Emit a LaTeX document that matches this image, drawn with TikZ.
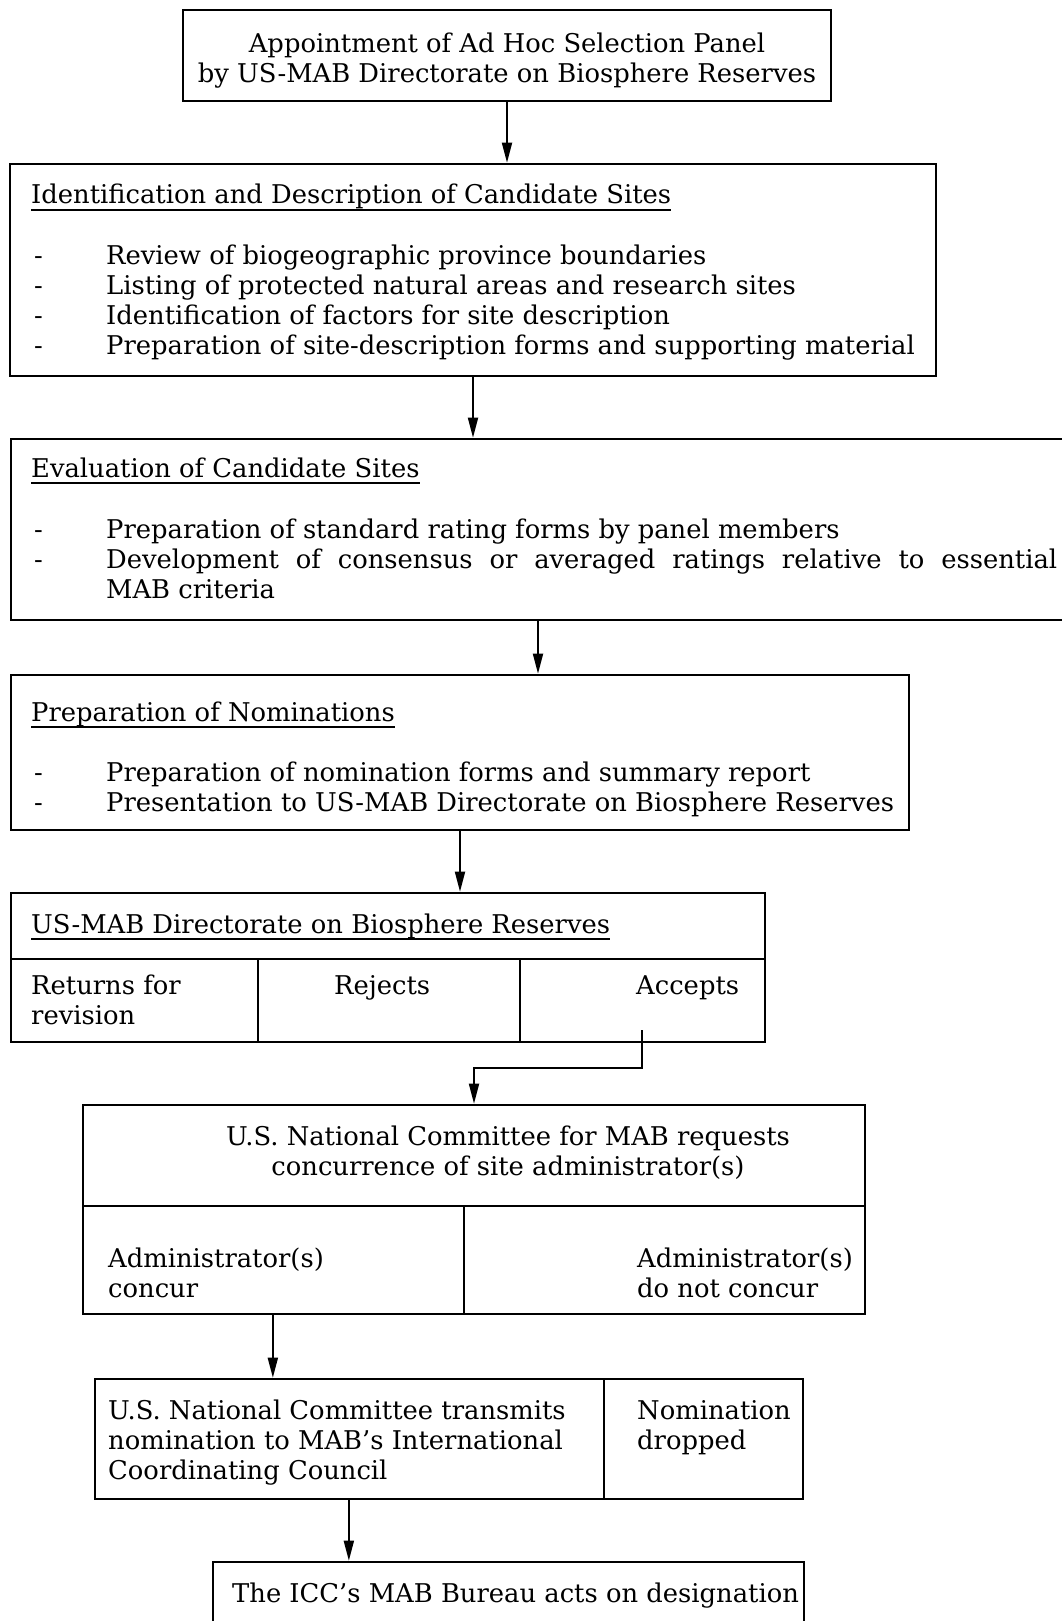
\documentclass[tikz,border=0pt]{standalone}
\usepackage{fontspec}
\setmainfont{DejaVu Serif}
\usetikzlibrary{arrows.meta,positioning,fit,calc}
\newcommand{\headul}[1]{\setbox0=\hbox{#1}\rlap{\rule[-7pt]{\wd0}{2pt}}\box0}
\newcommand{\dashitem}[1]{\makebox[72pt][l]{-}#1}
\tikzset{
  stagebox/.style={draw, line width=2.6pt, inner sep=0pt},
  cellrule/.style={line width=2pt},
  boxtext/.style={anchor=base west, inner sep=0pt, align=left, font=\fontsize{25.8}{30}\selectfont},
  flowedge/.style={-{Triangle[length=20pt,width=10pt]}, line width=1.8pt}
}
\begin{document}
\begin{tikzpicture}[x=1pt, y=-1pt]
  \useasboundingbox (0,0) rectangle (1061,1621);
  \node[stagebox, fit={(183,10)(831,101)}] (appt) {};
  \node[stagebox, fit={(10,164)(936,376)}] (ident) {};
  \node[stagebox, fit={(11,439)(1065,620)}] (eval) {};
  \node[stagebox, fit={(11,675)(909,830)}] (nomin) {};
  \node[stagebox, fit={(11,893)(765,1042)}] (direct) {};
  \node[stagebox, fit={(83,1105)(865,1314)}] (natcom) {};
  \node[stagebox, fit={(95,1379)(803,1499)}] (transmit) {};
  \node[stagebox, fit={(213,1562)(804,1660)}] (icc) {};
  \draw[cellrule] (11,959) -- (765,959) (258,959) -- (258,1042) (520,959) -- (520,1042);
  \draw[cellrule] (83,1206) -- (865,1206) (464,1206) -- (464,1314);
  \draw[cellrule] (604,1379) -- (604,1499);
  \node[boxtext, align=center, anchor=base] (appttxt) at (507,83) {Appointment of Ad Hoc Selection Panel\\by US-MAB Directorate on Biosphere Reserves};
  \node[boxtext] (identhead) at (31,204) {\headul{Identification and Description of Candidate Sites}};
  \node[boxtext] (identlist) at (34,354) {\dashitem{Review of biogeographic province boundaries}\\
    \dashitem{Listing of protected natural areas and research sites}\\
    \dashitem{Identification of factors for site description}\\
    \dashitem{Preparation of site-description forms and supporting material}};
  \node[boxtext] (evalhead) at (31,477) {\headul{Evaluation of Candidate Sites}};
  \node[boxtext] (evallist) at (34,598) {\dashitem{Preparation of standard rating forms by panel members}\\
    \dashitem{\makebox[951pt][s]{Development of consensus or averaged ratings relative to essential}}\\
    \hspace*{72pt}MAB criteria};
  \node[boxtext] (nominhead) at (31,721) {\headul{Preparation of Nominations}};
  \node[boxtext] (nominlist) at (34,811) {\dashitem{Preparation of nomination forms and summary report}\\
    \dashitem{Presentation to US-MAB Directorate on Biosphere Reserves}};
  \node[boxtext] (directhead) at (31,933) {\headul{US-MAB Directorate on Biosphere Reserves}};
  \node[boxtext] (returns) at (31,1024) {Returns for\\revision};
  \node[boxtext] (rejects) at (334,994) {Rejects};
  \node[boxtext] (accepts) at (636,994) {Accepts};
  \node[boxtext, align=center, anchor=base] (natcomtxt) at (508,1175) {U.S. National Committee for MAB requests\\concurrence of site administrator(s)};
  \node[boxtext] (concur) at (108,1297) {Administrator(s)\\concur};
  \node[boxtext] (noconcur) at (637,1297) {Administrator(s)\\do not concur};
  \node[boxtext] (transtxt) at (108,1479) {U.S. National Committee transmits\\nomination to MAB's International\\Coordinating Council};
  \node[boxtext] (dropped) at (637,1449) {Nomination\\dropped};
  \node[boxtext] (icctxt) at (232,1602) {The ICC's MAB Bureau acts on designation};
  \coordinate (accfoot) at (642,1030);
  \coordinate (ndiv) at (464,1314);
  \coordinate (tdiv) at (604,1499);
  \coordinate (concurfoot) at ($(natcom.south west)!0.5!(ndiv)$);
  \coordinate (transfoot) at ($(transmit.south west)!0.5!(tdiv)$);
  \draw[flowedge] (appt.south) -- (appt.south |- ident.north);
  \draw[flowedge] (ident.south) -- (ident.south |- eval.north);
  \draw[flowedge] (eval.south) -- (eval.south |- nomin.north);
  \draw[flowedge] (nomin.south) -- (nomin.south |- direct.north);
  \draw[flowedge] (accfoot) -- ++(0,38) -| (natcom.north);
  \draw[flowedge] (concurfoot) -- (concurfoot |- transmit.north);
  \draw[flowedge] (transfoot) -- (transfoot |- icc.north);
\end{tikzpicture}
\end{document}
